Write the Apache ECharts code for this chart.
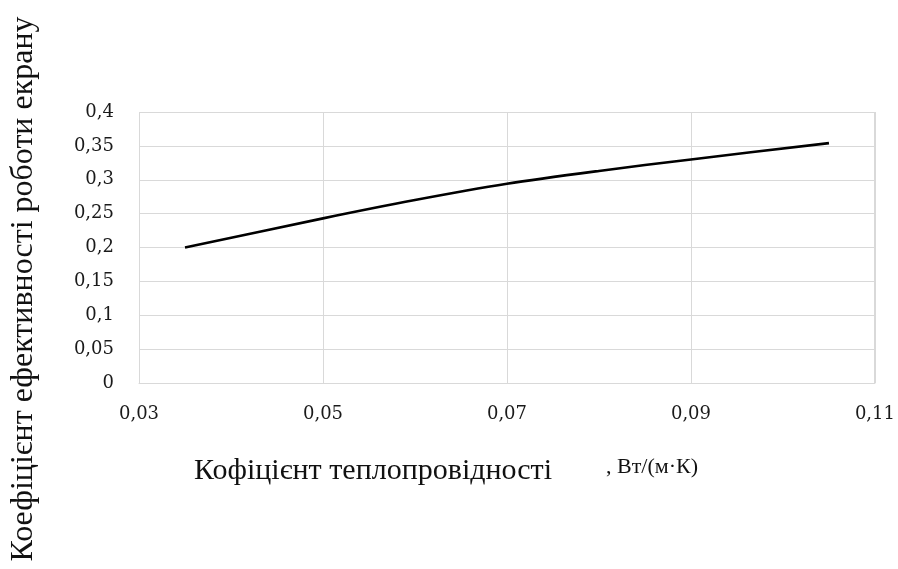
<!DOCTYPE html>
<html><head><meta charset="utf-8">
<script src="https://cdn.jsdelivr.net/npm/echarts@6/dist/echarts.min.js"></script>
<style>html,body{margin:0;padding:0;background:#fff}#c{width:898px;height:569px}</style>
</head><body><div id="c"></div>
<script>
const xValues = [0.035, 0.05, 0.06, 0.07, 0.08, 0.09, 0.105];
const yValues = [0.200, 0.243, 0.270, 0.294, 0.313, 0.330, 0.354];
const xTitle = 'Кофіцієнт теплопровідності';
const xUnit = ', Вт/(м·К)';
const yTitle = 'Коефіцієнт ефективності роботи екрану';

const fmt = v => String(+v.toFixed(3)).replace('.', ',');
const font = '"Liberation Serif", "Times New Roman", serif';
const tickFont = '"DejaVu Serif", serif';
const chart = echarts.init(document.getElementById('c'));
chart.setOption({
  animation: false,
  grid: {left: 139, top: 112, width: 736, height: 271, containLabel: false},
  xAxis: {
    type: 'value', min: 0.03, max: 0.11, interval: 0.02,
    axisLine: {show: true, lineStyle: {color: '#d9d9d9', width: 1}},
    axisTick: {show: false},
    splitLine: {show: true, lineStyle: {color: '#d9d9d9', width: 1}},
    axisLabel: {formatter: fmt, fontFamily: tickFont, fontSize: 18, color: '#1a1a1a', margin: 22}
  },
  yAxis: {
    type: 'value', min: 0, max: 0.4, interval: 0.05,
    axisLine: {show: false}, axisTick: {show: false},
    splitLine: {show: true, lineStyle: {color: '#d9d9d9', width: 1}},
    axisLabel: {formatter: fmt, fontFamily: tickFont, fontSize: 18, color: '#1a1a1a', margin: 25}
  },
  series: [{
    type: 'line',
    data: xValues.map((x, i) => [x, yValues[i]]),
    smooth: 0.3, showSymbol: false,
    lineStyle: {color: '#000', width: 2.6}
  }],
  graphic: [
    {type: 'rect', shape: {x: 874, y: 112, width: 1, height: 271}, style: {fill: '#d9d9d9'}},
    {type: 'text', x: 194, y: 471, style: {text: xTitle, font: '30px ' + font, fill: '#111', verticalAlign: 'middle'}},
    {type: 'text', x: 606, y: 467, style: {text: xUnit, font: '22px ' + font, fill: '#111', verticalAlign: 'middle'}},
    {type: 'text', x: 24, y: 289, rotation: Math.PI / 2,
     style: {text: yTitle, font: '32px ' + font, fill: '#111', align: 'center', verticalAlign: 'middle'}}
  ]
});
</script></body></html>
